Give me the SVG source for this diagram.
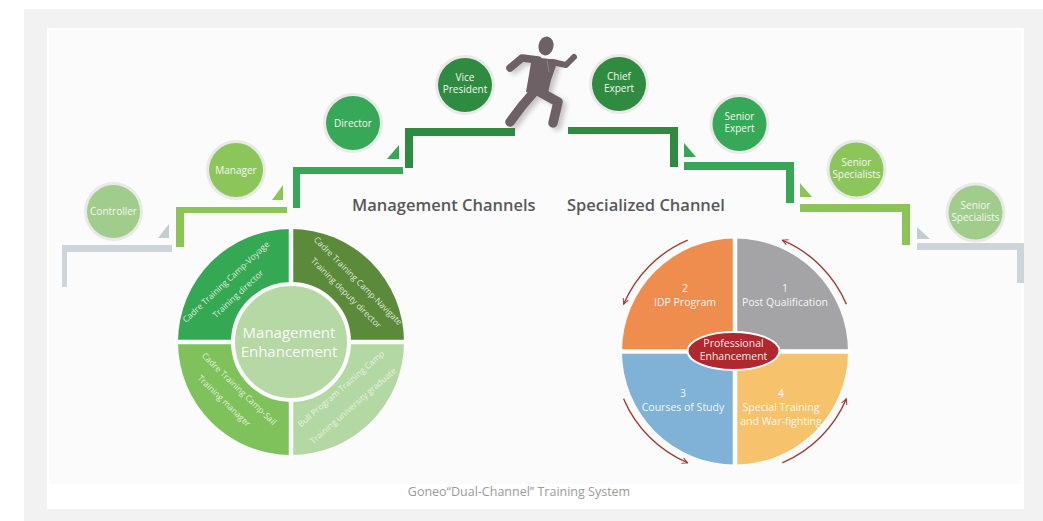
<svg xmlns="http://www.w3.org/2000/svg" width="1043" height="521" viewBox="0 0 1043 521">
  <defs>
    <style>
      .ring { fill: #e9e9e9; }
      .lbl { font-family: "Open Sans", "Liberation Sans", sans-serif; font-size: 10px; fill: #f4f8f0; text-anchor: middle; }
      .head { font-family: "Open Sans", "Liberation Sans", sans-serif; font-size: 16.5px; font-weight: 600; fill: #58585a; }
      .seg { font-family: "Open Sans", "Liberation Sans", sans-serif; font-size: 8.5px; fill: #eef6e8; fill-opacity: 0.9; text-anchor: middle; }
      .pie { font-family: "Open Sans", "Liberation Sans", sans-serif; font-size: 10.5px; fill: #ffffff; fill-opacity: 0.92; text-anchor: middle; }
      .mid { font-family: "Open Sans", "Liberation Sans", sans-serif; font-size: 15px; fill: #ffffff; fill-opacity: 0.92; text-anchor: middle; }
      .arc { fill: none; stroke: #9e3b33; stroke-width: 1.4; marker-end: url(#chev); }
      .limb { fill: none; stroke: #6d6165; stroke-linecap: round; stroke-linejoin: round; }
    </style>
    <marker id="chev" viewBox="0 0 10 10" refX="9" refY="5" markerWidth="7" markerHeight="7" orient="auto" markerUnits="userSpaceOnUse">
      <path d="M1,1 L9,5 L1,9" fill="none" stroke="#9e3b33" stroke-width="1.4"/>
    </marker>
    <filter id="soft" x="-30%" y="-30%" width="160%" height="160%">
      <feGaussianBlur stdDeviation="2.5"/>
    </filter>
  </defs>

  <!-- page frame -->
  <rect x="0" y="0" width="1043" height="521" fill="#ffffff"/>
  <rect x="24" y="9" width="1019" height="512" fill="#f2f2f2"/>
  <rect x="47" y="28" width="977" height="481" fill="#ffffff"/>
  <rect x="49" y="30" width="972" height="454" fill="#fbfbfb"/>

  <!-- staircase: management side (left) and specialist side (right) -->
  <g id="stairs">
    <path d="M62,245 H172 V252 H67 V287 H62 Z" fill="#cdd5db"/>
    <path d="M158,238 H169 V224 Z" fill="#c4cbd1"/>
    <path d="M176,207 H287 V213 H184 V247 H176 Z" fill="#8bc556"/>
    <path d="M272,200 H283 V185 Z" fill="#8bc556"/>
    <path d="M293,167 H403 V174 H300 V208 H293 Z" fill="#36a855"/>
    <path d="M387,159 H399 V145 Z" fill="#36a855"/>
    <path d="M405,128 H515 V136 H413 V168 H405 Z" fill="#2f8b3f"/>

    <path d="M568,127 H678 V167 H670 V134 H568 Z" fill="#2f8b3f"/>
    <path d="M684,143 V157 H696 Z" fill="#36a855"/>
    <path d="M684,162 H794 V203 H786 V170 H684 Z" fill="#36a855"/>
    <path d="M800,183 V197 H812 Z" fill="#8bc556"/>
    <path d="M800,204 H910 V245 H902 V212 H800 Z" fill="#8bc556"/>
    <path d="M917,227 V239 H930 Z" fill="#c4cbd1"/>
    <path d="M917,243 H1024 V283 H1017 V250 H917 Z" fill="#cdd5db"/>
  </g>

  <!-- runner at the top of the stairs -->
  <g id="runner">
    <g opacity="0.35" filter="url(#soft)" transform="translate(4,3)">
      <path class="limb" d="M538,60 L522,58 L510,68" stroke-width="7"/>
      <path class="limb" d="M534,92 L522,106 L510,122" stroke-width="9"/>
      <path class="limb" d="M540,92 L558,102 L553,123" stroke-width="9"/>
      <path d="M532,57 L558,60 L551,80 L547,97 L526,92 Z" fill="#6d6165"/>
    </g>
    <ellipse cx="546" cy="46" rx="7.5" ry="9.5" transform="rotate(12 546 46)" fill="#6d6165"/>
    <path class="limb" d="M538,60 L522,58 L510,68" stroke-width="7.5"/>
    <path class="limb" d="M552,62 L566,65 L574,57" stroke-width="6"/>
    <path class="limb" d="M534,92 L522,106 L510,122" stroke-width="9.5"/>
    <path class="limb" d="M540,92 L558,102 L553,123" stroke-width="9.5"/>
    <path d="M532,57 L558,60 L551,80 L547,97 L526,92 Z" fill="#6d6165"/>
    <path d="M547,60 L549,72" stroke="#8a8084" stroke-width="1.2"/>
  </g>

  <!-- position nodes -->
  <g id="node-controller">
    <circle class="ring" cx="113.5" cy="211.5" r="29.5"/>
    <circle cx="113.5" cy="211.5" r="26.5" fill="#a0cd8b"/>
    <text class="lbl" x="113.5" y="215">Controller</text>
  </g>
  <g id="node-manager">
    <circle class="ring" cx="236" cy="170" r="30"/>
    <circle cx="236" cy="170" r="27" fill="#8cc65a"/>
    <text class="lbl" x="236" y="173.5">Manager</text>
  </g>
  <g id="node-director">
    <circle class="ring" cx="353" cy="123" r="30"/>
    <circle cx="353" cy="123" r="27" fill="#37a857"/>
    <text class="lbl" x="353" y="126.5">Director</text>
  </g>
  <g id="node-vice-president">
    <circle class="ring" cx="465" cy="85" r="30"/>
    <circle cx="465" cy="85" r="27" fill="#2f8b3f"/>
    <text class="lbl" x="465" y="80.5">Vice</text>
    <text class="lbl" x="465" y="92.5">President</text>
  </g>
  <g id="node-chief-expert">
    <circle class="ring" cx="619" cy="84" r="30"/>
    <circle cx="619" cy="84" r="27" fill="#2f8b3f"/>
    <text class="lbl" x="619" y="80">Chief</text>
    <text class="lbl" x="619" y="92">Expert</text>
  </g>
  <g id="node-senior-expert">
    <circle class="ring" cx="739.5" cy="124" r="30"/>
    <circle cx="739.5" cy="124" r="27" fill="#37a857"/>
    <text class="lbl" x="739.5" y="120">Senior</text>
    <text class="lbl" x="739.5" y="132">Expert</text>
  </g>
  <g id="node-senior-specialists-1">
    <circle class="ring" cx="856.5" cy="169.5" r="30"/>
    <circle cx="856.5" cy="169.5" r="27" fill="#8cc65a"/>
    <text class="lbl" x="856.5" y="165.5">Senior</text>
    <text class="lbl" x="856.5" y="177.5">Specialists</text>
  </g>
  <g id="node-senior-specialists-2">
    <circle class="ring" cx="975.5" cy="212.5" r="30"/>
    <circle cx="975.5" cy="212.5" r="27" fill="#a0cd8b"/>
    <text class="lbl" x="975.5" y="208.5">Senior</text>
    <text class="lbl" x="975.5" y="220.5">Specialists</text>
  </g>

  <!-- channel headings -->
  <g id="headings">
    <text class="head" x="352" y="211">Management Channels</text>
    <text class="head" x="567" y="211">Specialized Channel</text>
  </g>

  <!-- management enhancement wheel -->
  <g id="management-wheel">
    <path d="M291,342 L178,342 A113,113 0 0 1 291,229 Z" fill="#35a854"/>
    <path d="M291,342 L291,229 A113,113 0 0 1 404,342 Z" fill="#5b8a3b"/>
    <path d="M291,342 L404,342 A113,113 0 0 1 291,455 Z" fill="#b4d8a4"/>
    <path d="M291,342 L291,455 A113,113 0 0 1 178,342 Z" fill="#7fc25c"/>
    <path d="M291,226 V458 M175,342 H407" stroke="#ffffff" stroke-width="4.5"/>
    <circle cx="291" cy="342" r="58" fill="#b5d8a5" stroke="#ffffff" stroke-width="4"/>
    <text class="seg" transform="translate(228,284) rotate(-43)">Cadre Training Camp-Voyage</text>
    <text class="seg" transform="translate(240,296) rotate(-43)">Training director</text>
    <text class="seg" transform="translate(356,283) rotate(45)">Cadre Training Camp-Navigate</text>
    <text class="seg" transform="translate(344,295) rotate(45)">Training deputy director</text>
    <text class="seg" transform="translate(237,391) rotate(44)">Cadre Training Camp-Sail</text>
    <text class="seg" transform="translate(222,403) rotate(44)">Training manager</text>
    <text class="seg" transform="translate(343,391) rotate(-41)">Bull Program Training Camp</text>
    <text class="seg" transform="translate(355,408) rotate(-41)">Training university graduate</text>
    <text class="mid" x="289" y="338">Management</text>
    <text class="mid" x="289" y="357">Enhancement</text>
  </g>

  <!-- professional enhancement wheel -->
  <g id="professional-wheel">
    <path d="M735,351.5 L622,351.5 A113,113 0 0 1 735,238.5 Z" fill="#ef8d4f"/>
    <path d="M735,351.5 L735,238.5 A113,113 0 0 1 848,351.5 Z" fill="#a4a4a6"/>
    <path d="M735,351.5 L848,351.5 A113,113 0 0 1 735,464.5 Z" fill="#f6c26b"/>
    <path d="M735,351.5 L735,464.5 A113,113 0 0 1 622,351.5 Z" fill="#7fb2d6"/>
    <path d="M735,235 V468 M619,351.5 H851" stroke="#ffffff" stroke-width="4.5"/>
    <text class="pie" x="685" y="292">2</text>
    <text class="pie" x="685" y="306">IDP Program</text>
    <text class="pie" x="785" y="292">1</text>
    <text class="pie" x="785" y="306">Post Qualification</text>
    <text class="pie" x="683" y="397">3</text>
    <text class="pie" x="683" y="411">Courses of Study</text>
    <text class="pie" x="781" y="397">4</text>
    <text class="pie" x="781" y="411">Special Training</text>
    <text class="pie" x="781" y="424.5">and War-fighting</text>
    <ellipse cx="733.5" cy="351" rx="46" ry="19" fill="#b0282e" stroke="#ffffff" stroke-width="2"/>
    <text class="pie" x="733.5" y="347">Professional</text>
    <text class="pie" x="733.5" y="359.5">Enhancement</text>
  </g>

  <!-- cycle arrows around the professional wheel -->
  <g id="connectors">
    <path class="arc" d="M846.4,304.2 A121,121 0 0 0 782.3,240.1"/>
    <path class="arc" d="M687.7,240.1 A121,121 0 0 0 623.6,304.2"/>
    <path class="arc" d="M623.6,398.8 A121,121 0 0 0 687.7,462.9"/>
    <path class="arc" d="M782.3,462.9 A121,121 0 0 0 846.4,398.8"/>
  </g>

  <text x="519" y="496" font-family="'Open Sans', 'Liberation Sans', sans-serif" font-size="12.5" fill="#9a9a9a" text-anchor="middle">Goneo“Dual-Channel” Training System</text>
</svg>
